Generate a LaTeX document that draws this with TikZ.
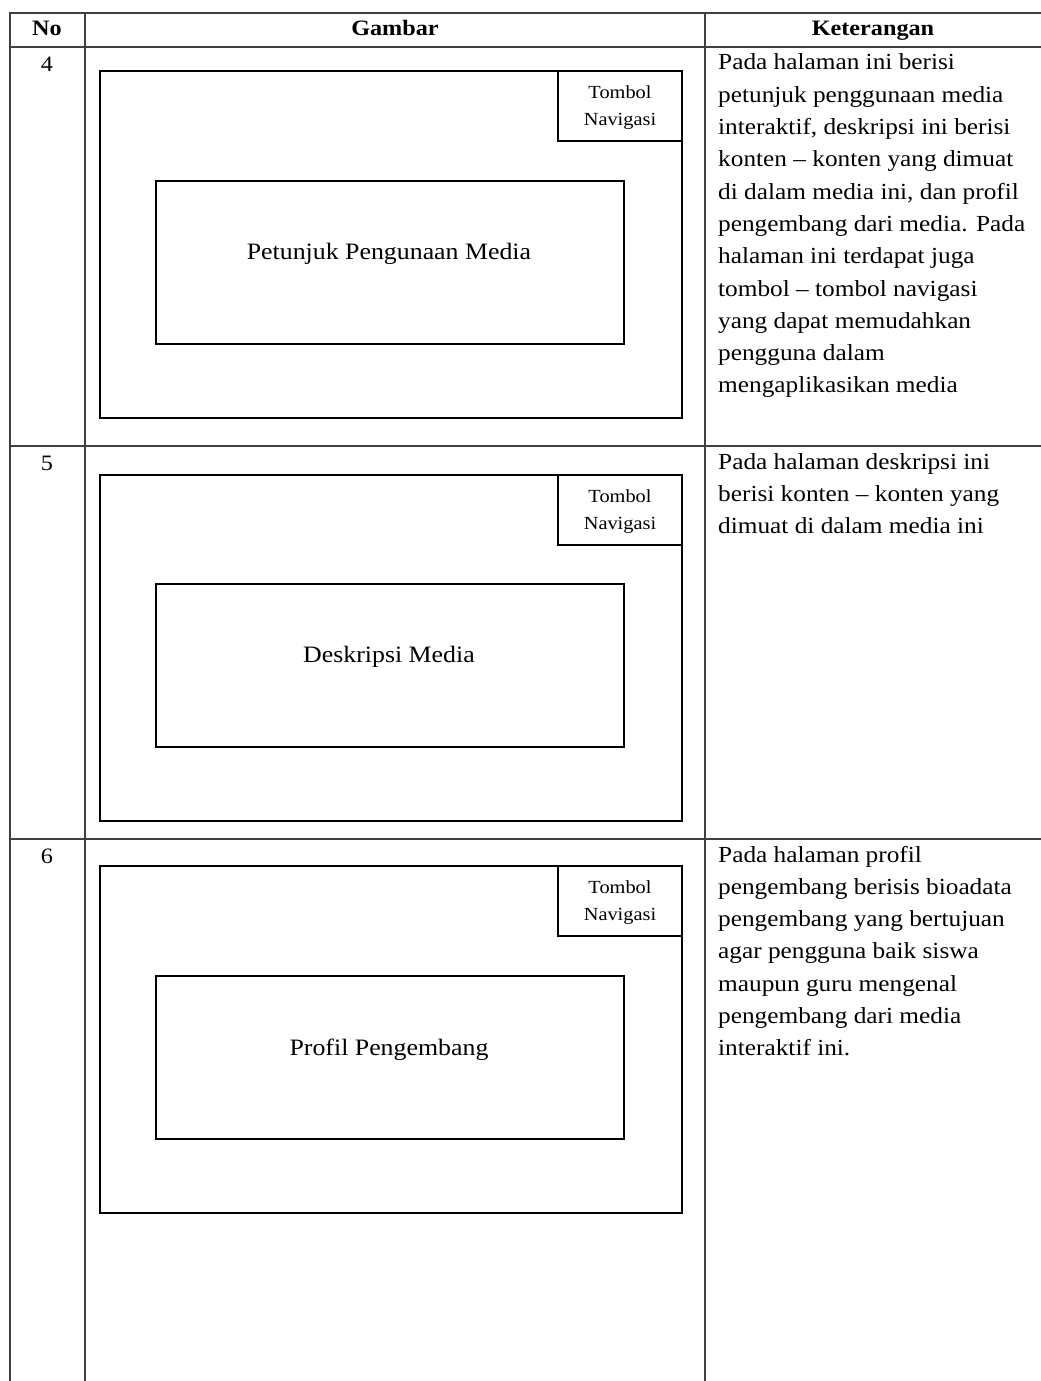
\documentclass[tikz,border=0pt]{standalone}
\usepackage{fontspec}
\setmainfont[FakeStretch=1.1]{Liberation Serif}
\begin{document}
\begin{tikzpicture}[x=1pt,y=-1pt,
  grid/.style={draw=black!75, line width=1.3pt},
  screen/.style={draw=black, line width=2pt},
  navbox/.style={draw=black, line width=1.3pt},
  body/.style={font=\fontsize{23}{32.3}\selectfont, anchor=base west, inner sep=0pt},
  head/.style={font=\fontsize{22}{26}\selectfont\bfseries, anchor=base, inner sep=0pt},
  num/.style={font=\fontsize{22}{26}\selectfont, anchor=base, inner sep=0pt},
  lbl/.style={font=\fontsize{23.5}{26}\selectfont, inner sep=0pt},
  navtxt/.style={font=\fontsize{18.5}{27}\selectfont, anchor=base, align=center, inner sep=0pt}]
\useasboundingbox (0,0) rectangle (1041,1381);
% table grid
\draw[grid] (1041,13) -- (10,13) -- (10,1381);
\draw[grid] (85,13) -- (85,1381);
\draw[grid] (705,13) -- (705,1381);
\draw[grid] (10,47) -- (1041,47);
\draw[grid] (10,446) -- (1041,446);
\draw[grid] (10,839) -- (1041,839);
% header
\node[head] (hno) at (47,36) {No};
\node[head] (hgb) at (395,36) {Gambar};
\node[head] (hket) at (873,36) {Keterangan};
% row 4
\node[num] (n4) at (47,71) {4};
\draw[screen] (100,71) rectangle (682,418);
\draw[navbox] (558,71) -- (558,141) -- (682,141);
\node[navtxt] (nav4) at (620,125) {Tombol\\Navigasi};
\draw[screen] (156,181) rectangle (624,344);
\node[lbl] (l4) at (389,254) {Petunjuk Pengunaan Media};
\node[body] (k4) at (718,70) {\parbox[t]{330pt}{\raggedright Pada halaman ini berisi\\petunjuk penggunaan media\\interaktif, deskripsi ini berisi\\konten -- konten yang dimuat\\di dalam media ini, dan profil\\pengembang dari media. Pada\\halaman ini terdapat juga\\tombol -- tombol navigasi\\yang dapat memudahkan\\pengguna dalam\\mengaplikasikan media}};
% row 5
\node[num] (n5) at (47,470) {5};
\draw[screen] (100,475) rectangle (682,821);
\draw[navbox] (558,475) -- (558,545) -- (682,545);
\node[navtxt] (nav5) at (620,529) {Tombol\\Navigasi};
\draw[screen] (156,584) rectangle (624,747);
\node[lbl] (l5) at (389,657) {Deskripsi Media};
\node[body] (k5) at (718,469) {\parbox[t]{330pt}{\raggedright Pada halaman deskripsi ini\\berisi konten -- konten yang\\dimuat di dalam media ini}};
% row 6
\node[num] (n6) at (47,863) {6};
\draw[screen] (100,866) rectangle (682,1213);
\draw[navbox] (558,866) -- (558,936) -- (682,936);
\node[navtxt] (nav6) at (620,920) {Tombol\\Navigasi};
\draw[screen] (156,976) rectangle (624,1139);
\node[lbl] (l6) at (389,1050) {Profil Pengembang};
\node[body] (k6) at (718,862) {\parbox[t]{330pt}{\raggedright Pada halaman profil\\pengembang berisis bioadata\\pengembang yang bertujuan\\agar pengguna baik siswa\\maupun guru mengenal\\pengembang dari media\\interaktif ini.}};
\end{tikzpicture}
\end{document}
